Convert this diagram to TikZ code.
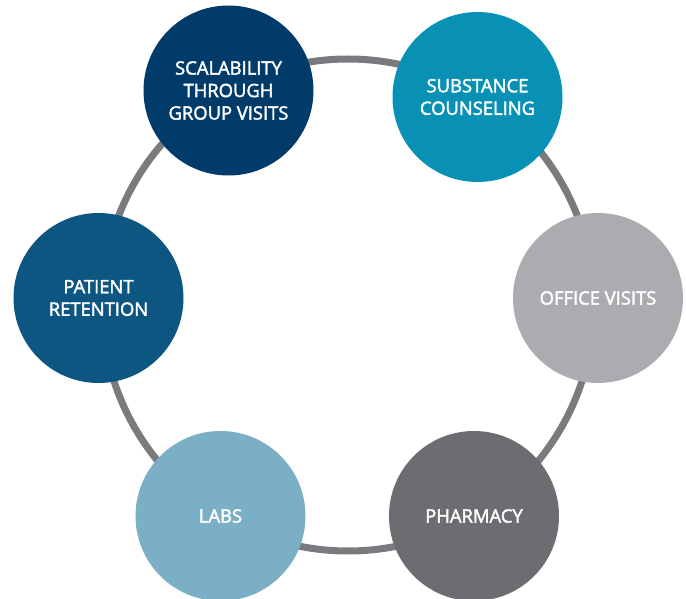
\documentclass[tikz,border=0pt]{standalone}
\usepackage{fontspec}
\setmainfont{Open Sans}
\newfontfamily\semib{Open Sans}[FakeBold=2.2]
\definecolor{ringgray}{HTML}{7B7B7F}
\definecolor{cnavy}{HTML}{003B69}
\definecolor{cteal}{HTML}{0891B5}
\definecolor{clgray}{HTML}{ABACAF}
\definecolor{cdgray}{HTML}{6C6D71}
\definecolor{clblue}{HTML}{7BAFC6}
\definecolor{cblue}{HTML}{0E5682}
\begin{document}
\begin{tikzpicture}[x=1pt,y=-1pt,
  bub/.style={circle,minimum size=170pt,inner sep=0pt,text=white,align=center,
    font=\semib\fontsize{18.4}{22.5}\selectfont}]
\useasboundingbox (0,0) rectangle (686,599);
\coordinate (ctr) at (348,305);
\draw[ringgray,line width=7pt] (ctr) circle[radius=246];
\node[bub,fill=cnavy] (scal) at (228.5,90.5) {SCALABILITY\\THROUGH\\GROUP VISITS};
\node[bub,fill=cteal] (subst) at (477.5,97) {SUBSTANCE\\COUNSELING};
\node[bub,fill=clgray] (office) at (598,298) {OFFICE VISITS};
\node[bub,fill=cdgray] (pharm) at (474,516) {PHARMACY};
\node[bub,fill=clblue] (labs) at (220.5,516) {LABS};
\node[bub,fill=cblue] (retent) at (98.5,298) {PATIENT\\RETENTION};
\end{tikzpicture}
\end{document}
